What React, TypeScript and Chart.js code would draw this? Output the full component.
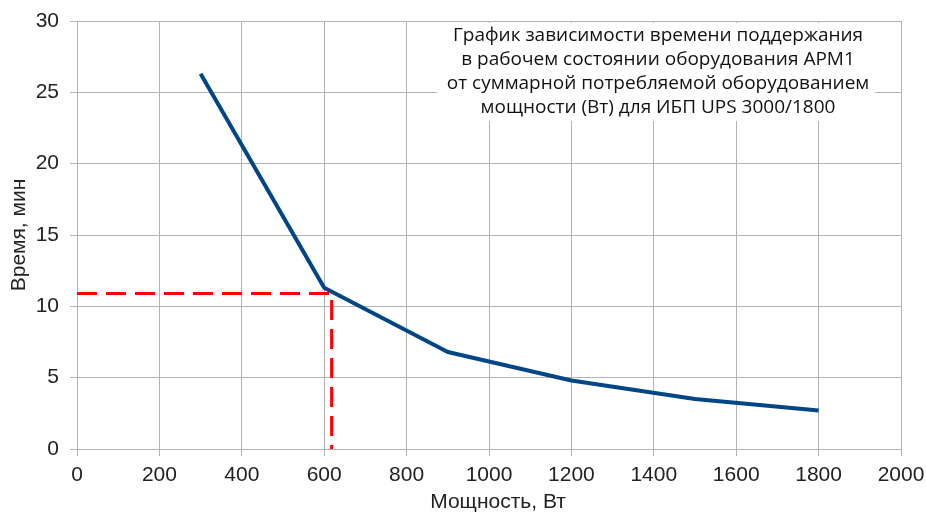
import React, { useEffect, useRef } from "react";
import { Chart, registerables } from "chart.js";

Chart.register(...registerables);

// Runtime of the workstation on UPS battery vs. total load
const powerW = [300, 600, 900, 1200, 1500, 1800];
const runtimeMin = [26.3, 11.3, 6.8, 4.8, 3.5, 2.7];

// Operating point of the workstation (marked with red dashed guides)
const loadPowerW = 618;
const loadRuntimeMin = 10.9;

// Axis ranges
const xRange = { min: 0, max: 2000, step: 200 };
const yRange = { min: 0, max: 30, step: 5 };

const xAxisTitle = "Мощность, Вт";
const yAxisTitle = "Время, мин";

const titleLines = [
  "График зависимости времени поддержания",
  "в рабочем состоянии оборудования АРМ1",
  "от суммарной потребляемой оборудованием",
  "мощности (Вт) для ИБП UPS 3000/1800",
];

const GRID = "#b3b3b3";
const TEXT = "#222222";
const AXIS_FONT = '"Liberation Sans", Arial, sans-serif';

// Draws the caption block inside the plot on a white backing
const captionPlugin = {
  id: "captionBox",
  beforeDatasetsDraw(chart: any) {
    const { ctx } = chart;
    ctx.save();
    ctx.fillStyle = "#ffffff";
    ctx.fillRect(437, 23, 438, 98);
    ctx.fillStyle = "#111111";
    ctx.font = '19px "Open Sans", sans-serif';
    ctx.textAlign = "center";
    ctx.textBaseline = "middle";
    titleLines.forEach((line, i) => {
      ctx.fillText(line, 658, 36 + i * 23.7);
    });
    ctx.restore();
  },
};

// Horizontal axis title, set slightly right of the plot centre
const xTitlePlugin = {
  id: "xAxisTitle",
  afterDraw(chart: any) {
    const { ctx, chartArea } = chart;
    ctx.save();
    ctx.fillStyle = TEXT;
    ctx.font = `21px ${AXIS_FONT}`;
    ctx.textAlign = "center";
    ctx.textBaseline = "middle";
    ctx.fillText(xAxisTitle, (chartArea.left + chartArea.right) / 2 + 9, 502);
    ctx.restore();
  },
};

const plainNumber = (value: number | string) => String(value);

export default function App() {
  const canvasRef = useRef<HTMLCanvasElement | null>(null);

  useEffect(() => {
    const canvas = canvasRef.current;
    if (!canvas) return;

    const curve = powerW.map((x, i) => ({ x, y: runtimeMin[i] }));
    const guide = [
      { x: xRange.min, y: loadRuntimeMin },
      { x: loadPowerW, y: loadRuntimeMin },
      { x: loadPowerW, y: yRange.min },
    ];

    const tickFont = { family: AXIS_FONT, size: 21 };
    const titleFont = { family: AXIS_FONT, size: 21 };

    const chart = new Chart(canvas, {
      type: "line",
      data: {
        datasets: [
          {
            label: "guide",
            data: guide,
            borderColor: "#ff0000",
            borderWidth: 3,
            borderDash: [20, 9],
            pointRadius: 0,
            fill: false,
            tension: 0,
          },
          {
            label: "runtime",
            data: curve,
            borderColor: "#004586",
            borderWidth: 4,
            borderJoinStyle: "round",
            pointRadius: 0,
            fill: false,
            tension: 0,
          },
        ],
      },
      options: {
        responsive: false,
        animation: false,
        devicePixelRatio: 1,
        layout: { padding: { left: 0, right: 25, top: 21, bottom: 0 } },
        plugins: {
          legend: { display: false },
          tooltip: { enabled: false },
        },
        scales: {
          x: {
            type: "linear",
            min: xRange.min,
            max: xRange.max,
            afterFit: (scale: any) => {
              scale.height = 66;
              scale.paddingLeft = 0;
              scale.paddingRight = 0;
            },
            ticks: {
              stepSize: xRange.step,
              color: TEXT,
              font: tickFont,
              padding: 7,
              maxRotation: 0,
              callback: plainNumber,
            },
            grid: { color: GRID, lineWidth: 1, tickLength: 7, drawTicks: true },
            border: { color: GRID, width: 1 },
            title: { display: false },
          },
          y: {
            type: "linear",
            min: yRange.min,
            max: yRange.max,
            afterFit: (scale: any) => {
              scale.width = 77;
              scale.paddingTop = 0;
              scale.paddingBottom = 0;
            },
            ticks: {
              stepSize: yRange.step,
              color: TEXT,
              font: tickFont,
              padding: 11,
              callback: plainNumber,
            },
            grid: { color: GRID, lineWidth: 1, tickLength: 7, drawTicks: true },
            border: { color: GRID, width: 1 },
            title: {
              display: true,
              text: yAxisTitle,
              color: TEXT,
              font: titleFont,
              padding: { top: 7, bottom: 0 },
            },
          },
        },
      },
      plugins: [captionPlugin, xTitlePlugin],
    });

    return () => chart.destroy();
  }, []);

  return (
    <div style={{ position: "absolute", left: 0, top: 0, width: 926, height: 515, background: "#fff" }}>
      <canvas ref={canvasRef} width={926} height={515} style={{ display: "block" }} />
    </div>
  );
}
